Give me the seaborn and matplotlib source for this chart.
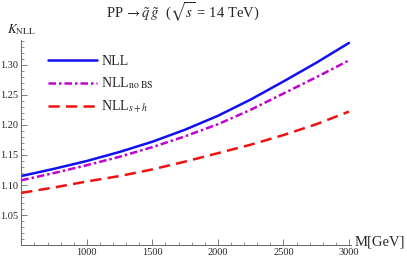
import matplotlib
matplotlib.use("Agg")
import matplotlib.pyplot as plt
from matplotlib.ticker import MultipleLocator, FixedLocator
import seaborn as sns
import pandas as pd

# values (K factor vs mass)
mass = [500, 750, 1000, 1250, 1500, 1750, 2000, 2250, 2500, 2750, 3000]
k_nll = [1.115, 1.127, 1.140, 1.155, 1.172, 1.192, 1.215, 1.242, 1.272, 1.303, 1.336]
k_nll_nobs = [1.108, 1.120, 1.133, 1.147, 1.163, 1.181, 1.201, 1.225, 1.252, 1.279, 1.307]
k_nll_sh = [1.087, 1.096, 1.106, 1.115, 1.126, 1.139, 1.153, 1.167, 1.183, 1.201, 1.222]

x_ticks = [1000, 1500, 2000, 2500, 3000]
y_ticks = [1.05, 1.10, 1.15, 1.20, 1.25, 1.30]

sns.set_style("ticks")
plt.rcParams["font.family"] = ["Liberation Serif", "DejaVu Serif"]
plt.rcParams["mathtext.fontset"] = "stix"

df = pd.DataFrame({"M": mass, "nll": k_nll, "nobs": k_nll_nobs, "sh": k_nll_sh})

fig = plt.figure(figsize=(4.07, 2.60), dpi=100)
ax = fig.add_axes([0.0523, 0.0565, 0.81, 0.79])

sns.lineplot(data=df, x="M", y="nll", ax=ax, color="#1010f0", linewidth=1.8,
             label="NLL")
sns.lineplot(data=df, x="M", y="nobs", ax=ax, color="#c000d0", linewidth=1.8,
             linestyle=(0, (3.0, 1.2, 1.0, 1.2)), label=r"NLL$_{\rm no\ BS}$")
sns.lineplot(data=df, x="M", y="sh", ax=ax, color="#f01010", linewidth=1.8,
             linestyle=(0, (4.5, 2.5)), label=r"NLL$_{s+h}$")

ax.set_xlim(500, 3015)
ax.set_ylim(1.0, 1.341)
ax.xaxis.set_major_locator(FixedLocator(x_ticks))
ax.xaxis.set_minor_locator(MultipleLocator(100))
ax.yaxis.set_major_locator(FixedLocator(y_ticks))
ax.yaxis.set_minor_locator(MultipleLocator(0.01))
ax.set_yticklabels([f"{v:.2f}" for v in y_ticks])
ax.tick_params(which="major", direction="in", length=4, width=0.6,
               color="#666666", labelsize=7.5, pad=2)
ax.tick_params(which="minor", direction="in", length=2, width=0.5,
               color="#666666")
for side in ["top", "right"]:
    ax.spines[side].set_visible(False)
for side in ["left", "bottom"]:
    ax.spines[side].set_color("#666666")
    ax.spines[side].set_linewidth(0.7)
ax.set_xlabel("")
ax.set_ylabel("")

fig.text(0.45, 0.955, r"PP$\,\rightarrow\tilde{q}\,\tilde{g}$  ($\sqrt{s}$ = 14 TeV)",
         ha="center", va="center", fontsize=10.5)
fig.text(0.018, 0.885, r"$K_{\rm NLL}$", ha="left", va="center", fontsize=9.5)
fig.text(0.872, 0.068, "M[GeV]", ha="left", va="center", fontsize=10.5)

ax.legend(loc="upper left", bbox_to_anchor=(0.105, 0.81), bbox_transform=fig.transFigure,
          frameon=False, fontsize=10, handlelength=3.5, handletextpad=0.3,
          labelspacing=0.55, borderaxespad=0)

fig.savefig("out.png", dpi=100)
